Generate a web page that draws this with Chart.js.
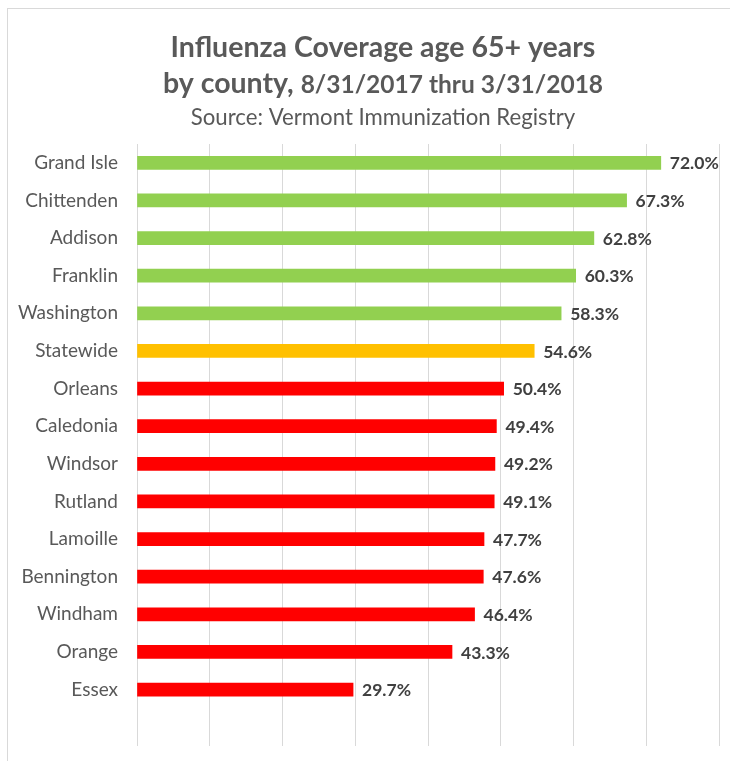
<!DOCTYPE html>
<html>
<head>
<meta charset="utf-8">
<script src="https://cdn.jsdelivr.net/npm/chart.js@4"></script>
<style>
html,body{margin:0;padding:0;background:#fff;}
#wrap{position:relative;width:730px;height:761px;overflow:hidden;}
#frame{position:absolute;left:7px;top:8px;width:740px;height:770px;border-left:1px solid #d9d9d9;border-top:1px solid #d9d9d9;box-sizing:border-box;}
canvas{position:absolute;left:0;top:0;}
</style>
</head>
<body>
<div id="wrap">
<div id="frame"></div>
<canvas id="c" width="730" height="761"></canvas>
</div>
<script>
const categories = ['Grand Isle','Chittenden','Addison','Franklin','Washington','Statewide','Orleans','Caledonia','Windsor','Rutland','Lamoille','Bennington','Windham','Orange','Essex',''];
const coverage = [72.0,67.3,62.8,60.3,58.3,54.6,50.4,49.4,49.2,49.1,47.7,47.6,46.4,43.3,29.7,null];
const groups = ['high','high','high','high','high','state','low','low','low','low','low','low','low','low','low',''];
const groupColors = {high:'#92D050', state:'#FFC000', low:'#FF0000', '':'#ffffff'};
const titleLine1 = 'Influenza Coverage age 65+ years';
const titleLine2a = 'by county, ';
const titleLine2b = '8/31/2017 thru 3/31/2018';
const subtitleText = 'Source: Vermont Immunization Registry';
const xTicks = {min:0, max:80, step:10};

const FONT = 'Lato, "Open Sans", sans-serif';

const titles = {
  id:'titles',
  afterDraw(chart){
    const ctx = chart.ctx;
    const cx = 383;
    ctx.save();
    ctx.fillStyle = '#595959';
    ctx.textBaseline = 'alphabetic';
    ctx.textAlign = 'left';
    ctx.font = 'bold 28.5px ' + FONT;
    let w = ctx.measureText(titleLine1).width;
    ctx.fillText(titleLine1, cx - w/2, 57);
    ctx.font = 'bold 28.5px ' + FONT;
    const wa = ctx.measureText(titleLine2a).width;
    ctx.font = 'bold 24.5px ' + FONT;
    const wb = ctx.measureText(titleLine2b).width;
    const x0 = cx - (wa + wb)/2;
    ctx.font = 'bold 28.5px ' + FONT;
    ctx.fillText(titleLine2a, x0, 93);
    ctx.font = 'bold 24.5px ' + FONT;
    ctx.fillText(titleLine2b, x0 + wa, 93);
    ctx.font = '22.2px ' + FONT;
    w = ctx.measureText(subtitleText).width;
    ctx.fillText(subtitleText, cx - w/2, 125);
    ctx.restore();
  }
};

const valueLabels = {
  id:'valueLabels',
  afterDatasetsDraw(chart){
    const ctx = chart.ctx;
    const meta = chart.getDatasetMeta(0);
    ctx.save();
    ctx.font = 'bold 17.5px ' + FONT;
    ctx.fillStyle = '#404040';
    ctx.textAlign = 'left';
    ctx.textBaseline = 'middle';
    meta.data.forEach((el,i)=>{
      const v = coverage[i];
      if (v === null || v === undefined) return;
      ctx.fillText(v.toFixed(1)+'%', el.x + 9, el.y + 1);
    });
    ctx.restore();
  }
};

new Chart(document.getElementById('c'), {
  type:'bar',
  data:{
    labels: categories,
    datasets:[{
      data: coverage,
      backgroundColor: groups.map(g=>groupColors[g]),
      barThickness: 13,
      borderWidth: 0
    }]
  },
  options:{
    indexAxis:'y',
    responsive:false,
    animation:false,
    layout:{padding:{top:144, right:11, bottom:15, left:0}},
    plugins:{
      legend:{display:false},
      tooltip:{enabled:false},
      title:{display:false},
      subtitle:{display:false}
    },
    scales:{
      x:{
        min:xTicks.min, max:xTicks.max,
        ticks:{display:false, stepSize:xTicks.step},
        grid:{color:'#d9d9d9', drawTicks:false, lineWidth:1},
        border:{display:false},
        afterFit(scale){ scale.height = 0; }
      },
      y:{
        grid:{display:false, drawTicks:true, tickLength:19},
        border:{display:false},
        ticks:{color:'#595959', font:{family:FONT, size:19}, padding:0},
        afterFit(scale){ scale.width = 137; }
      }
    }
  },
  plugins:[valueLabels, titles]
});
</script>
</body>
</html>
